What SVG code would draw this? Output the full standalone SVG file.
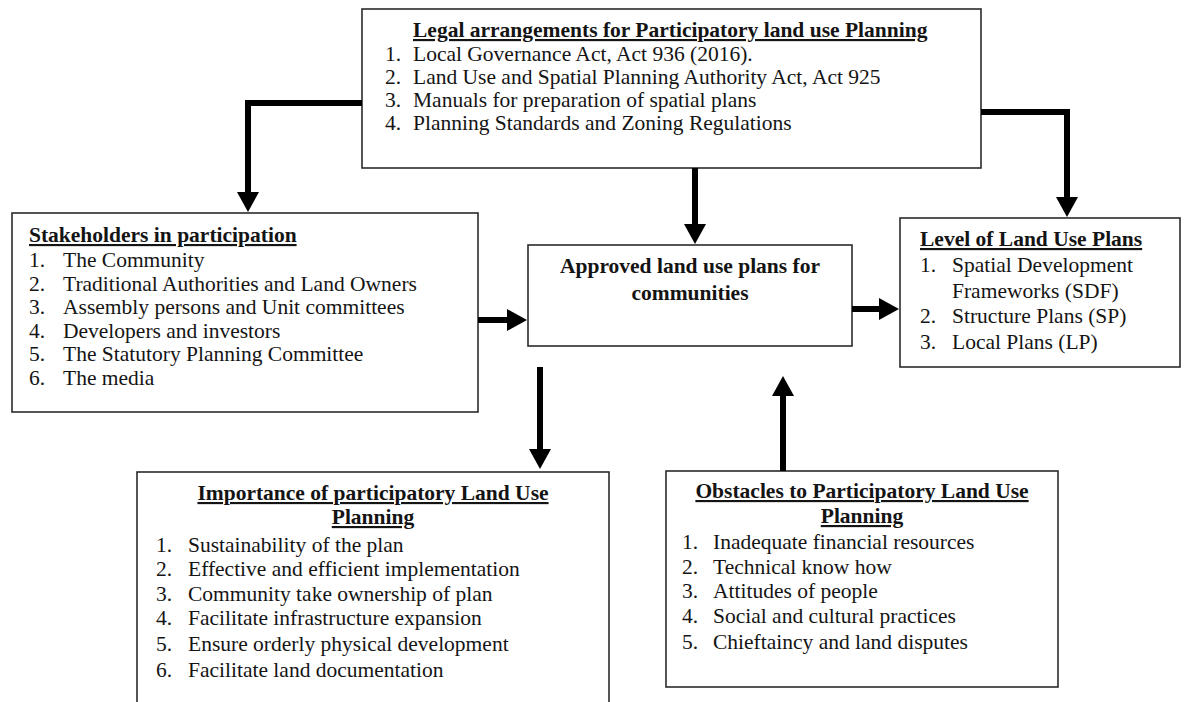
<svg xmlns="http://www.w3.org/2000/svg" width="1184" height="702" viewBox="0 0 1184 702">
<style>
  .box { fill: #ffffff; stroke: #2b2b2b; stroke-width: 1.6; }
  text { font-family: "Liberation Serif", "Times New Roman", serif; font-size: 21.5px; fill: #141414; }
  .t { font-weight: bold; text-decoration: underline; }
  .b { font-weight: bold; }
  .c { text-anchor: middle; }
  .conn { fill: none; stroke: #000000; stroke-width: 6; stroke-linejoin: miter; stroke-linecap: butt; marker-end: url(#ah); }
</style>
<defs>
  <marker id="ah" viewBox="0 0 20 22" refX="1" refY="11" markerWidth="20" markerHeight="22" markerUnits="userSpaceOnUse" orient="auto">
    <path d="M0,0 L20,11 L0,22 Z" fill="#000000"/>
  </marker>
</defs>
<rect width="1184" height="702" fill="#ffffff"/>

<g id="legal">
  <rect class="box" x="362" y="9" width="619" height="159"/>
  <text class="t" x="413" y="37">Legal arrangements for Participatory land use Planning</text>
  <text x="385" y="61">1.</text><text x="413" y="61">Local Governance Act, Act 936 (2016).</text>
  <text x="385" y="84">2.</text><text x="413" y="84">Land Use and Spatial Planning Authority Act, Act 925</text>
  <text x="385" y="107">3.</text><text x="413" y="107">Manuals for preparation of spatial plans</text>
  <text x="385" y="130">4.</text><text x="413" y="130">Planning Standards and Zoning Regulations</text>
</g>

<g id="stakeholders">
  <rect class="box" x="12" y="213" width="466" height="199"/>
  <text class="t" x="29" y="242">Stakeholders in participation</text>
  <text x="29" y="267">1.</text><text x="63" y="267">The Community</text>
  <text x="29" y="290.5">2.</text><text x="63" y="290.5">Traditional Authorities and Land Owners</text>
  <text x="29" y="314">3.</text><text x="63" y="314">Assembly persons and Unit committees</text>
  <text x="29" y="337.5">4.</text><text x="63" y="337.5">Developers and investors</text>
  <text x="29" y="361">5.</text><text x="63" y="361">The Statutory Planning Committee</text>
  <text x="29" y="384.5">6.</text><text x="63" y="384.5">The media</text>
</g>

<g id="approved">
  <rect class="box" x="528" y="245" width="324" height="101"/>
  <text class="b c" x="690" y="273">Approved land use plans for</text>
  <text class="b c" x="690" y="300">communities</text>
</g>

<g id="levels">
  <rect class="box" x="900" y="218" width="280" height="149"/>
  <text class="t" x="920" y="246">Level of Land Use Plans</text>
  <text x="920" y="272">1.</text><text x="952" y="272">Spatial Development</text>
  <text x="952" y="298">Frameworks (SDF)</text>
  <text x="920" y="323">2.</text><text x="952" y="323">Structure Plans (SP)</text>
  <text x="920" y="349">3.</text><text x="952" y="349">Local Plans (LP)</text>
</g>

<g id="importance">
  <rect class="box" x="137" y="472" width="472" height="240"/>
  <text class="t c" x="373" y="500">Importance of participatory Land Use</text>
  <text class="t c" x="373" y="524">Planning</text>
  <text x="156" y="552">1.</text><text x="188" y="552">Sustainability of the plan</text>
  <text x="156" y="576">2.</text><text x="188" y="576">Effective and efficient implementation</text>
  <text x="156" y="601">3.</text><text x="188" y="601">Community take ownership of plan</text>
  <text x="156" y="625">4.</text><text x="188" y="625">Facilitate infrastructure expansion</text>
  <text x="156" y="651">5.</text><text x="188" y="651">Ensure orderly physical development</text>
  <text x="156" y="677">6.</text><text x="188" y="677">Facilitate land documentation</text>
</g>

<g id="obstacles">
  <rect class="box" x="666" y="471" width="392" height="216"/>
  <text class="t c" x="862" y="498">Obstacles to Participatory Land Use</text>
  <text class="t c" x="862" y="523">Planning</text>
  <text x="682" y="549">1.</text><text x="713" y="549">Inadequate financial resources</text>
  <text x="682" y="574">2.</text><text x="713" y="574">Technical know how</text>
  <text x="682" y="598">3.</text><text x="713" y="598">Attitudes of people</text>
  <text x="682" y="623">4.</text><text x="713" y="623">Social and cultural practices</text>
  <text x="682" y="649">5.</text><text x="713" y="649">Chieftaincy and land disputes</text>
</g>

<g id="connectors">
  <path class="conn" d="M362,103 H248 V193"/>
  <path class="conn" d="M981,112 H1067 V198"/>
  <path class="conn" d="M695,168 V225"/>
  <path class="conn" d="M478,320 H508"/>
  <path class="conn" d="M852,309 H880"/>
  <path class="conn" d="M540,367 V450"/>
  <path class="conn" d="M783,471 V395"/>
</g>
</svg>
